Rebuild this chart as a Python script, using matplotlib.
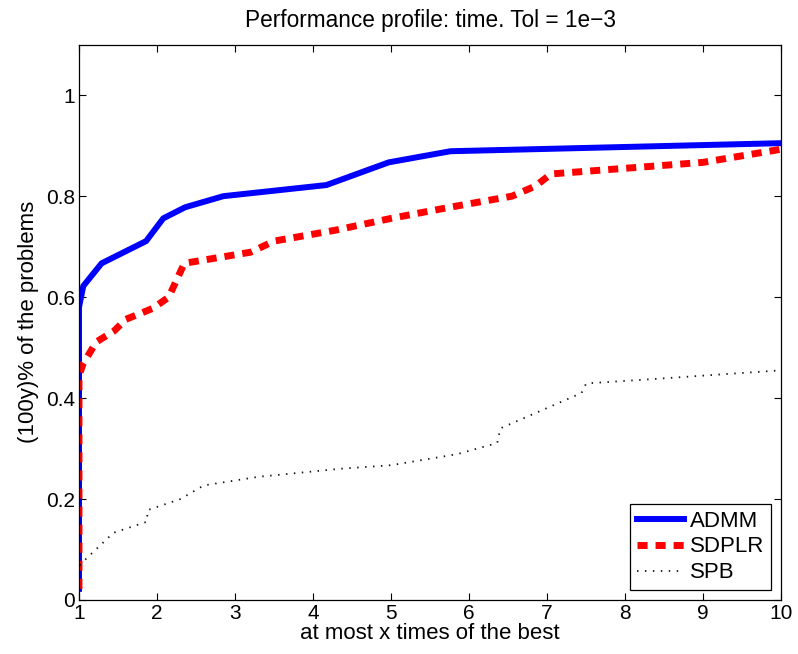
import matplotlib
matplotlib.use("Agg")
import matplotlib.pyplot as plt

plt.rcParams["font.family"] = ["Liberation Sans", "DejaVu Sans"]

# performance profile data (45 problems)
admm_x = [1.0, 1.0, 1.055, 1.29, 1.86, 2.08, 2.36, 2.85, 4.17, 4.97, 5.76, 10.0]
admm_y = [0.022, 0.58, 0.622, 0.667, 0.711, 0.756, 0.778, 0.80, 0.822, 0.867, 0.889, 0.905]

sdplr_x = [1.0, 1.0, 1.05, 1.22, 1.45, 1.6, 1.95, 2.15, 2.35, 3.2, 3.5, 4.3, 5.0,
           5.75, 6.55, 6.85, 7.05, 9.0, 10.0]
sdplr_y = [0.022, 0.444, 0.467, 0.511, 0.533, 0.556, 0.578, 0.6, 0.667, 0.689, 0.711,
           0.733, 0.756, 0.778, 0.80, 0.82, 0.844, 0.867, 0.893]

spb_x = [1.0, 1.0, 1.08, 1.44, 1.87, 1.88, 2.3, 2.6, 3.3, 4.35, 5.0, 5.85, 6.36, 6.4,
         7.44, 7.5, 8.2, 10.0]
spb_y = [0.022, 0.067, 0.08, 0.133, 0.155, 0.178, 0.2, 0.227, 0.244, 0.26, 0.267,
         0.289, 0.311, 0.34, 0.41, 0.429, 0.436, 0.455]

xticks = [1, 2, 3, 4, 5, 6, 7, 8, 9, 10]
yticks = [0, 0.2, 0.4, 0.6, 0.8, 1.0]
ytick_labels = ["0", "0.2", "0.4", "0.6", "0.8", "1"]

fig = plt.figure(figsize=(7.98, 6.54), dpi=100)
ax = fig.add_axes([0.099, 0.0826, 0.88, 0.849])

ax.plot(admm_x, admm_y, color="#0000ff", linewidth=4.3, label="ADMM",
        solid_joinstyle="round")
ax.plot(sdplr_x, sdplr_y, color="#ff0000", linewidth=5, dashes=(1.45, 1.15),
        label="SDPLR")
ax.plot(spb_x, spb_y, color="#111111", linewidth=1.3, dashes=(0.8, 3.6),
        label="SPB")

ax.set_xlim(1, 10)
ax.set_ylim(0, 1.1)
ax.set_xticks(xticks)
ax.set_yticks(yticks)
ax.set_yticklabels(ytick_labels)
ax.tick_params(direction="in", length=5, width=0.8, top=True, right=True,
               labelsize=15, pad=3)
for s in ax.spines.values():
    s.set_linewidth(0.9)

ax.set_title("Performance profile: time. Tol = 1e\u22123", fontsize=16.3, pad=13)
ax.set_xlabel("at most x times of the best", fontsize=16, labelpad=0)
ax.set_ylabel("(100y)% of the problems", fontsize=16, labelpad=5)

leg = ax.legend(loc="lower right", fontsize=16, fancybox=False, framealpha=1,
                edgecolor="black", handlelength=2.1, borderaxespad=0.45,
                labelspacing=0.22, handletextpad=0.3, borderpad=0.3)
leg.get_frame().set_linewidth(0.9)

fig.savefig("out.png", dpi=100)
